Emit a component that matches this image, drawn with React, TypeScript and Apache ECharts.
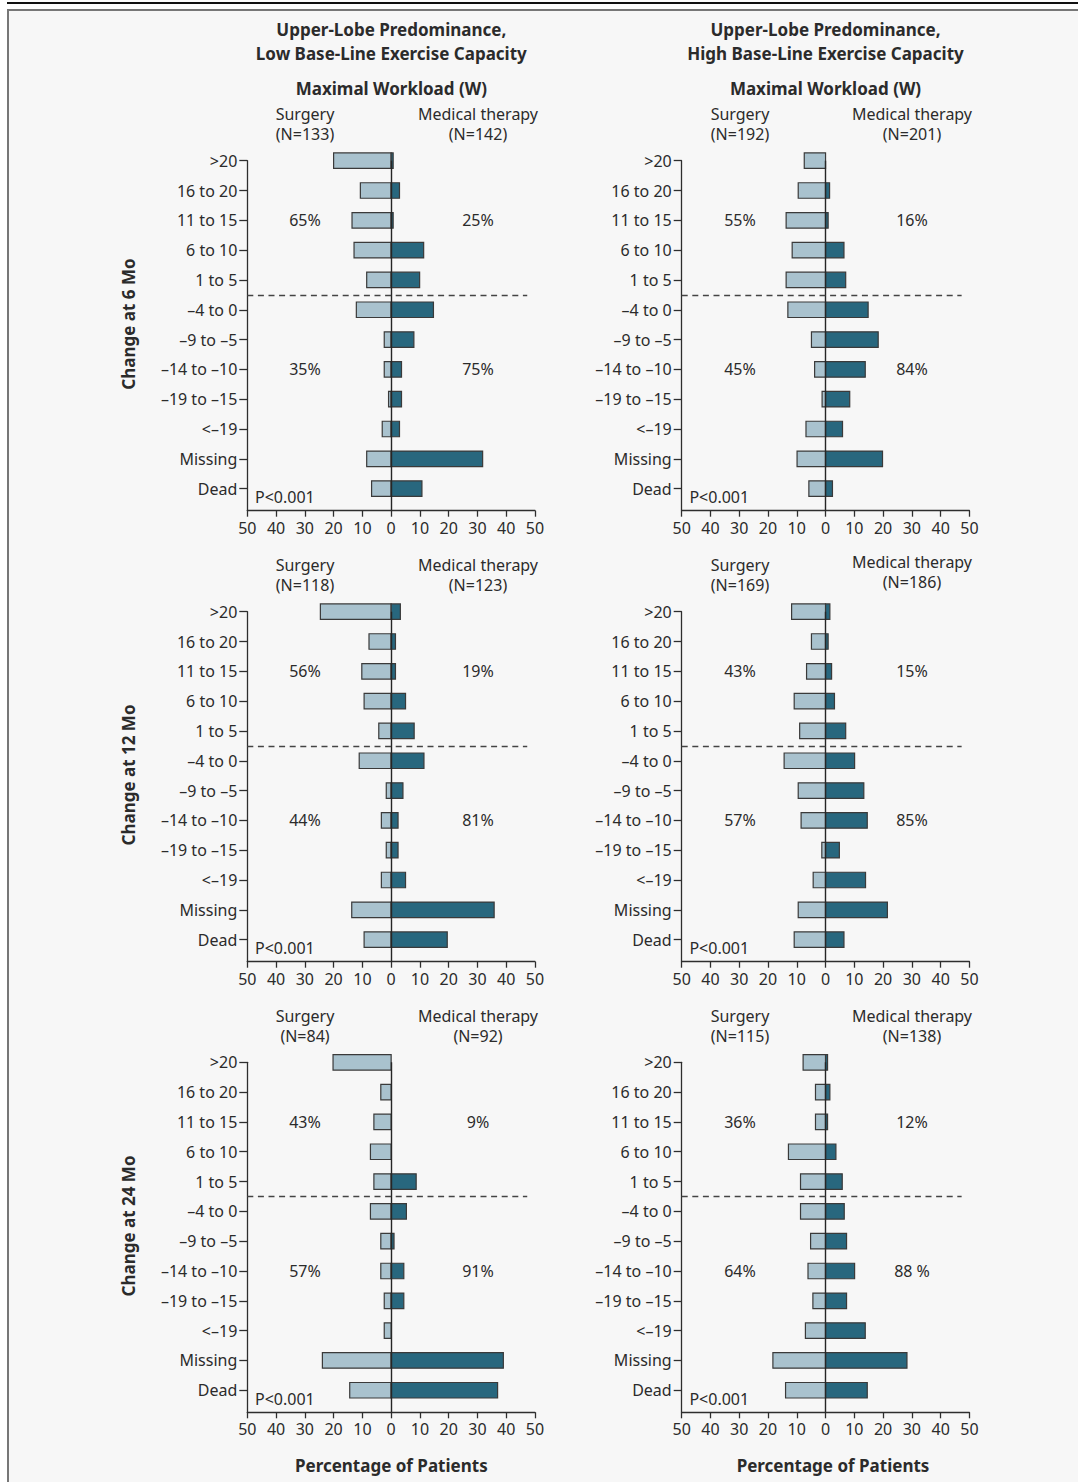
import React, { useEffect, useRef } from "react";
import * as echarts from "echarts";

const categories = [
  ">20", "16 to 20", "11 to 15", "6 to 10", "1 to 5", "\u20134 to 0",
  "\u20139 to \u20135", "\u201314 to \u201310", "\u201319 to \u201315", "<\u201319", "Missing", "Dead",
];

// 6 months
const surgery6Low = [20, 10.7, 13.6, 12.9, 8.5, 12.1, 2.4, 2.4, 0.9, 3.1, 8.5, 6.8];
const medical6Low = [0.7, 2.9, 0.7, 11.3, 9.9, 14.7, 7.9, 3.6, 3.6, 2.9, 31.8, 10.7];
const surgery6High = [7.4, 9.5, 13.7, 11.6, 13.7, 13.1, 4.9, 3.8, 1.2, 6.8, 9.9, 5.8];
const medical6High = [0, 1.4, 0.9, 6.4, 7.0, 14.8, 18.3, 13.8, 8.4, 5.9, 19.8, 2.4];
// 12 months
const surgery12Low = [24.6, 7.7, 10.2, 9.4, 4.3, 11.1, 1.7, 3.4, 1.7, 3.4, 13.7, 9.4];
const medical12Low = [3.2, 1.5, 1.5, 5.0, 8.0, 11.4, 4.1, 2.4, 2.4, 5.0, 35.8, 19.5];
const surgery12High = [11.8, 4.9, 6.6, 10.9, 9.0, 14.4, 9.5, 8.5, 1.3, 4.3, 9.5, 10.9];
const medical12High = [1.5, 0.9, 2.1, 3.1, 7.0, 10.1, 13.3, 14.5, 4.8, 13.9, 21.5, 6.4];
// 24 months
const surgery24Low = [20.2, 3.6, 6.0, 7.2, 6.0, 7.2, 3.6, 3.6, 2.4, 2.4, 23.9, 14.4];
const medical24Low = [0, 0, 0, 0, 8.7, 5.3, 1.0, 4.4, 4.4, 0, 39.0, 37.0];
const surgery24High = [7.8, 3.5, 3.5, 12.9, 8.7, 8.7, 5.2, 6.1, 4.4, 7.0, 18.3, 13.9];
const medical24High = [0.7, 1.5, 0.7, 3.6, 5.8, 6.5, 7.3, 10.1, 7.3, 13.8, 28.3, 14.5];

const surgeryN = ["(N=133)", "(N=192)", "(N=118)", "(N=169)", "(N=84)", "(N=115)"];
const medicalN = ["(N=142)", "(N=201)", "(N=123)", "(N=186)", "(N=92)", "(N=138)"];
const surgeryUpPct = ["65%", "55%", "56%", "43%", "43%", "36%"];
const surgeryDownPct = ["35%", "45%", "44%", "57%", "57%", "64%"];
const medicalUpPct = ["25%", "16%", "19%", "15%", "9%", "12%"];
const medicalDownPct = ["75%", "84%", "81%", "85%", "91%", "88 %"];
const pValues = ["P<0.001", "P<0.001", "P<0.001", "P<0.001", "P<0.001", "P<0.001"];
const rowTitles = ["Change at 6 Mo", "Change at 12 Mo", "Change at 24 Mo"];
const colTitles = [
  "Upper-Lobe Predominance,\nLow Base-Line Exercise Capacity",
  "Upper-Lobe Predominance,\nHigh Base-Line Exercise Capacity",
];

const surgerySeries = [surgery6Low, surgery6High, surgery12Low, surgery12High, surgery24Low, surgery24High];
const medicalSeries = [medical6Low, medical6High, medical12Low, medical12High, medical24Low, medical24High];

const FONT = "'Noto Sans', 'Open Sans', sans-serif";
const TEXT = "#2b2b2b";
const AXIS = "#2e2e2e";
const LIGHT = "#a9c2ce";
const DARK = "#28677e";

const colLeft = [247.3, 681.7];
const colSurgX = [305, 740];
const colMedX = [478, 912];
const colCenter = [391.3, 825.5];
const rowTop = [160.7, 611.7, 1062.3];
const GW = 287.7;
const GH = 350;
const YMAX = 11.74;

function makeRender(fill: string) {
  return (params: any, api: any) => {
    const v = api.value(0) as number;
    const k = api.value(1) as number;
    if (!v) return { type: "group", children: [] };
    const a = api.coord([0, k]);
    const b = api.coord([v, k]);
    const h = Math.abs(api.size([0, 1])[1]) * 0.52;
    return {
      type: "rect",
      shape: {
        x: Math.min(a[0], b[0]),
        y: a[1] - h / 2,
        width: Math.abs(b[0] - a[0]),
        height: h,
      },
      style: { fill, stroke: "#3a3a3a", lineWidth: 1.2 },
    };
  };
}

function txt(text: string, x: number, y: number, size = 16, weight: any = "normal", extra: any = {}, lineHeight?: number) {
  return {
    type: "text",
    x,
    y,
    silent: true,
    ...extra,
    style: {
      text,
      fontSize: size,
      fontWeight: weight,
      fontFamily: FONT,
      fill: TEXT,
      lineHeight: lineHeight || size + 2,
      align: extra.align || "center",
      verticalAlign: "middle",
    },
  };
}

export default function App() {
  const ref = useRef<HTMLDivElement>(null);
  useEffect(() => {
    if (!ref.current) return;
    const chart = echarts.init(ref.current, undefined, { renderer: "svg" });
    const ticks = categories.map((_, i) => i);
    const grid: any[] = [];
    const xAxis: any[] = [];
    const yAxis: any[] = [];
    const series: any[] = [];
    const graphic: any[] = [];

    for (let i = 0; i < 6; i++) {
      const row = Math.floor(i / 2);
      const col = i % 2;
      const top = rowTop[row];
      grid.push({ left: colLeft[col], top, width: GW, height: GH, containLabel: false });
      xAxis.push({
        gridIndex: i,
        type: "value",
        min: -50,
        max: 50,
        interval: 10,
        axisLine: { show: true, onZero: false, lineStyle: { color: AXIS, width: 1.3 } },
        axisTick: { show: true, length: 6, lineStyle: { color: AXIS, width: 1.3 } },
        axisLabel: {
          formatter: (v: number) => String(Math.abs(v)),
          fontSize: 16,
          fontFamily: FONT,
          color: TEXT,
          margin: 9,
        },
        splitLine: { show: false },
      });
      yAxis.push({
        gridIndex: i,
        type: "value",
        inverse: true,
        min: 0,
        max: YMAX,
        interval: 1,
        axisLine: { show: true, onZero: false, lineStyle: { color: AXIS, width: 1.3 } },
        axisTick: { show: true, length: 8, customValues: ticks, lineStyle: { color: AXIS, width: 1.3 } },
        axisLabel: {
          customValues: ticks,
          formatter: (v: number) => {
            const r = Math.round(v);
            return Math.abs(r - v) < 0.01 && categories[r] !== undefined ? categories[r] : "";
          },
          fontSize: 16,
          fontFamily: FONT,
          color: TEXT,
          margin: 10,
        },
        splitLine: { show: false },
      });
      series.push({
        type: "custom",
        name: "Surgery",
        xAxisIndex: i,
        yAxisIndex: i,
        clip: false,
        z: 2,
        encode: { x: 0, y: 1 },
        data: surgerySeries[i].map((v, k) => [-v, k]),
        renderItem: makeRender(LIGHT),
      });
      series.push({
        type: "custom",
        name: "Medical therapy",
        xAxisIndex: i,
        yAxisIndex: i,
        clip: false,
        z: 3,
        encode: { x: 0, y: 1 },
        data: medicalSeries[i].map((v, k) => [v, k]),
        renderItem: makeRender(DARK),
        markLine: {
          silent: true,
          symbol: ["none", "none"],
          label: { show: false },
          z: 5,
          data: [
            { xAxis: 0, lineStyle: { type: "solid", color: "#262626", width: 1.4 } },
            [
              { coord: [-50, 4.5], lineStyle: { type: [6, 4.6], color: "#444", width: 1.3 } },
              { coord: [47.3, 4.5] },
            ],
          ],
        },
      });

      const medShift = i === 3 ? -3 : 0;
      graphic.push(txt("Surgery\n" + surgeryN[i], colSurgX[col], top - 36.5, 16, "normal", {}, 19.8));
      graphic.push(txt("Medical therapy\n" + medicalN[i], colMedX[col], top - 36.5 + medShift, 16, "normal", {}, 19.8));
      graphic.push(txt(surgeryUpPct[i], colSurgX[col], top + 59.6));
      graphic.push(txt(medicalUpPct[i], colMedX[col], top + 59.6));
      graphic.push(txt(surgeryDownPct[i], colSurgX[col], top + 208.7));
      graphic.push(txt(medicalDownPct[i], colMedX[col], top + 208.7));
      graphic.push(txt(pValues[i], colLeft[col] + 7.7, top + 336.6, 16, "normal", { align: "left" }));
    }

    for (let c = 0; c < 2; c++) {
      graphic.push(txt(colTitles[c], colCenter[c], 41, 17, "bold", {}, 24));
      graphic.push(txt("Maximal Workload (W)", colCenter[c], 88, 17, "bold"));
    }
    graphic.push(txt("Percentage of Patients", 391.3, 1465, 17, "bold"));
    graphic.push(txt("Percentage of Patients", 833, 1465, 17, "bold"));
    for (let r = 0; r < 3; r++) {
      graphic.push(txt(rowTitles[r], 128, 324 + r * 451, 17, "bold", { rotation: Math.PI / 2 }));
    }

    chart.setOption({
      animation: false,
      backgroundColor: "transparent",
      grid,
      xAxis,
      yAxis,
      series,
      graphic: { elements: graphic },
    });
    return () => chart.dispose();
  }, []);

  return (
    <div style={{ position: "absolute", left: 0, top: 0, width: 1078, height: 1482, overflow: "hidden", background: "#fff" }}>
      <div style={{ position: "absolute", left: 7, top: 2, width: 1071, height: 1.5, background: "#111" }} />
      <div
        style={{
          position: "absolute",
          left: 7.3,
          top: 9,
          width: 1200,
          height: 1600,
          boxSizing: "border-box",
          border: "2.7px solid #777",
          background: "#f7f7f7",
        }}
      />
      <div ref={ref} style={{ position: "absolute", left: 0, top: 0, width: 1078, height: 1482 }} />
    </div>
  );
}
